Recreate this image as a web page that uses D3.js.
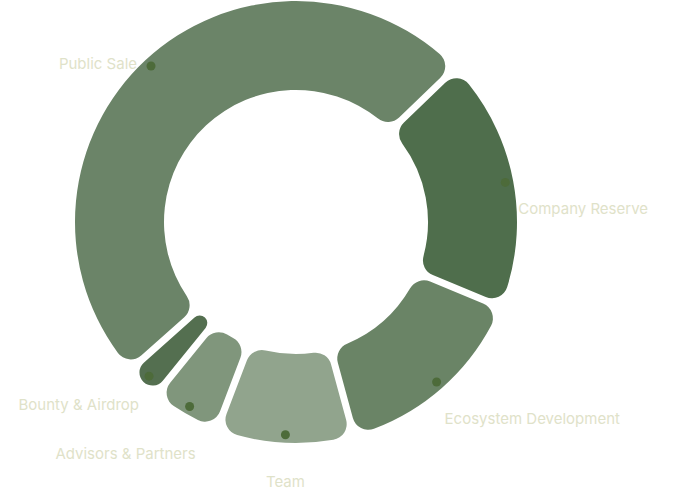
<!DOCTYPE html>
<html><head><meta charset="utf-8">
<script src="https://cdn.jsdelivr.net/npm/d3@7"></script>
<style>body{margin:0;background:#fff}</style></head>
<body><svg id="c" width="680" height="501"></svg>
<script>
const categories = ["Company Reserve","Ecosystem Development","Team","Advisors & Partners","Bounty & Airdrop","Public Sale"];
const values = [18, 14, 9.5, 4.5, 2, 49];
const colors = ["#4f6e4c","#6a8466","#91a48d","#80967c","#546f50","#6b8468"];
const labelDx = [13, 8, 0, 6, -10, -14];
const labelDy = [32, 42, 52, 52, 34, 3];
const anchors = ["start","start","middle","end","end","end"];

const svg = d3.select("#c");
const cx = 296, cy = 222, rOut = 221, rIn = 132;
const g = svg.append("g").attr("transform", `translate(${cx},${cy})`);
const pie = d3.pie().sort(null).value(d=>d)
  .startAngle(46*Math.PI/180).endAngle((46+360)*Math.PI/180).padAngle(0.035);
const arcs = pie(values);
const arc = d3.arc().innerRadius(rIn).outerRadius(rOut).cornerRadius(16).padRadius(200);
g.selectAll("path").data(arcs).join("path")
  .attr("d", arc).attr("fill",(d,i)=>colors[i]);
const ptR = rOut - 8;
const pt = d => { const a = (d.startAngle+d.endAngle)/2; return [Math.sin(a)*ptR, -Math.cos(a)*ptR]; };
g.selectAll("circle").data(arcs).join("circle")
  .attr("cx", d=>pt(d)[0]).attr("cy", d=>pt(d)[1]).attr("r",4.5)
  .attr("fill","#4d6b3a");
g.selectAll("text").data(arcs).join("text")
  .attr("x",(d,i)=>pt(d)[0]+labelDx[i]).attr("y",(d,i)=>pt(d)[1]+labelDy[i])
  .attr("text-anchor",(d,i)=>anchors[i])
  .attr("font-family","Inter, sans-serif").attr("font-size",15)
  .attr("fill","#dfe2c9").text((d,i)=>categories[i]);
</script></body></html>
